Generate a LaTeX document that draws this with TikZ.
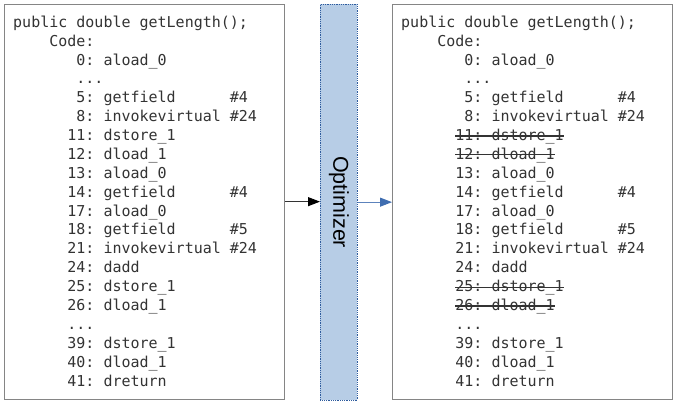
\documentclass[tikz,border=0pt]{standalone}
\usepackage{fontspec}
\setmonofont{DejaVu Sans Mono}
\setsansfont{Liberation Sans}
\usetikzlibrary{arrows.meta}
\definecolor{txtgray}{HTML}{333333}
\definecolor{boxgray}{HTML}{858585}
\definecolor{optfill}{HTML}{B7CDE6}
\definecolor{optline}{HTML}{2F5C9E}
\definecolor{arrblue}{HTML}{3F6DB0}
\newcommand{\strk}[1]{\setbox0=\hbox{#1}\rlap{\rule[4pt]{\wd0}{1.1pt}}\box0}
\tikzset{
  codebox/.style={draw=boxgray, line width=1.3pt, fill=white, inner sep=0pt, anchor=north west},
  optbox/.style={draw=optline, densely dotted, line width=0.8pt, fill=optfill, inner sep=0pt, anchor=north west},
  codetxt/.style={anchor=base west, inner sep=0pt, text=txtgray, font=\fontsize{15}{19}\selectfont\ttfamily},
  opttxt/.style={rotate=-90, inner sep=0pt, text=black, font=\fontsize{21.5}{24}\selectfont\sffamily},
  blackarrow/.style={draw=black!80, line width=1pt, -{Triangle[length=12pt,width=9pt,color=black]}},
  bluearrow/.style={draw=arrblue!85, line width=1pt, -{Triangle[length=12pt,width=9pt,color=arrblue]}}
}
\newcommand{\codeln}[4]{\node[codetxt] (#1) at (#2, {27.3+18.88*#3}) {#4};}
\begin{document}
\begin{tikzpicture}[x=1pt,y=-1pt]
\useasboundingbox (0,0) rectangle (677,405);
% boxes
\node[codebox, minimum width=280.5pt, minimum height=395pt] (src) at (3.5,3.5) {};
\node[optbox, minimum width=37pt, minimum height=395.5pt] (opt) at (320,4) {};
\node[codebox, minimum width=280pt, minimum height=395pt] (dst) at (392,3.5) {};
\node[opttxt] (optlabel) at (opt.center) {Optimizer};
% arrows
\draw[blackarrow] (src.east) -- (src.east -| opt.west);
\draw[bluearrow] (opt.east) -- (opt.east -| dst.west);
% left code
\codeln{l0}{13}{0}{public~double~getLength();}
\codeln{l1}{13}{1}{~~~~Code:}
\codeln{l2}{13}{2}{~~~~~~~0:~aload\_0}
\codeln{l3}{13}{3}{~~~~~~~...}
\codeln{l4}{13}{4}{~~~~~~~5:~getfield~~~~~~\#4}
\codeln{l5}{13}{5}{~~~~~~~8:~invokevirtual~\#24}
\codeln{l6}{13}{6}{~~~~~~11:~dstore\_1}
\codeln{l7}{13}{7}{~~~~~~12:~dload\_1}
\codeln{l8}{13}{8}{~~~~~~13:~aload\_0}
\codeln{l9}{13}{9}{~~~~~~14:~getfield~~~~~~\#4}
\codeln{l10}{13}{10}{~~~~~~17:~aload\_0}
\codeln{l11}{13}{11}{~~~~~~18:~getfield~~~~~~\#5}
\codeln{l12}{13}{12}{~~~~~~21:~invokevirtual~\#24}
\codeln{l13}{13}{13}{~~~~~~24:~dadd}
\codeln{l14}{13}{14}{~~~~~~25:~dstore\_1}
\codeln{l15}{13}{15}{~~~~~~26:~dload\_1}
\codeln{l16}{13}{16}{~~~~~~...}
\codeln{l17}{13}{17}{~~~~~~39:~dstore\_1}
\codeln{l18}{13}{18}{~~~~~~40:~dload\_1}
\codeln{l19}{13}{19}{~~~~~~41:~dreturn}
% right code
\codeln{r0}{401}{0}{public~double~getLength();}
\codeln{r1}{401}{1}{~~~~Code:}
\codeln{r2}{401}{2}{~~~~~~~0:~aload\_0}
\codeln{r3}{401}{3}{~~~~~~~...}
\codeln{r4}{401}{4}{~~~~~~~5:~getfield~~~~~~\#4}
\codeln{r5}{401}{5}{~~~~~~~8:~invokevirtual~\#24}
\codeln{r6}{401}{6}{~~~~~~\strk{11:~dstore\_1}}
\codeln{r7}{401}{7}{~~~~~~\strk{12:~dload\_1}}
\codeln{r8}{401}{8}{~~~~~~13:~aload\_0}
\codeln{r9}{401}{9}{~~~~~~14:~getfield~~~~~~\#4}
\codeln{r10}{401}{10}{~~~~~~17:~aload\_0}
\codeln{r11}{401}{11}{~~~~~~18:~getfield~~~~~~\#5}
\codeln{r12}{401}{12}{~~~~~~21:~invokevirtual~\#24}
\codeln{r13}{401}{13}{~~~~~~24:~dadd}
\codeln{r14}{401}{14}{~~~~~~\strk{25:~dstore\_1}}
\codeln{r15}{401}{15}{~~~~~~\strk{26:~dload\_1}}
\codeln{r16}{401}{16}{~~~~~~...}
\codeln{r17}{401}{17}{~~~~~~39:~dstore\_1}
\codeln{r18}{401}{18}{~~~~~~40:~dload\_1}
\codeln{r19}{401}{19}{~~~~~~41:~dreturn}
\end{tikzpicture}
\end{document}
